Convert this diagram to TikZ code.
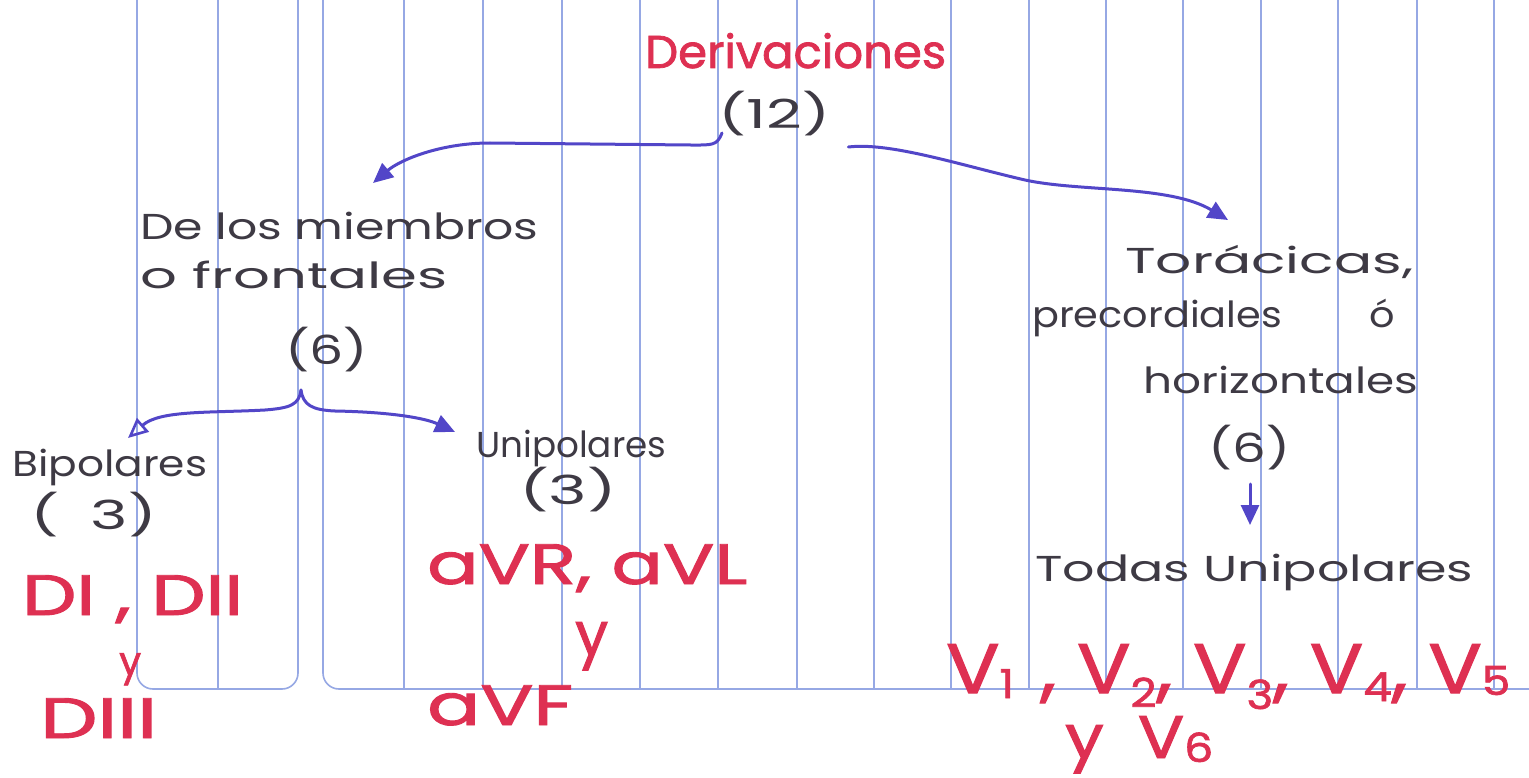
\documentclass[tikz,border=0pt]{standalone}
\usepackage{fontspec}
\setmainfont{Poppins}
\newfontfamily\markerfont[FakeBold=1.6]{Poppins}
\usetikzlibrary{arrows.meta,calc}
\definecolor{inkred}{RGB}{222,48,82}
\definecolor{ink}{RGB}{62,58,68}
\definecolor{penblue}{RGB}{82,70,200}
\definecolor{paperrule}{RGB}{150,168,228}
\newcommand{\hw}[2]{\resizebox{#1}{\height}{#2}}
\newcommand{\lsub}[2]{\raisebox{-#1}{\fontsize{40}{40}\selectfont #2}}
\begin{document}
\begin{tikzpicture}[x=1pt,y=-1pt,
  txt/.style={inner sep=0pt, anchor=base west, text=ink, font=\fontsize{36}{40}\selectfont},
  redtxt/.style={inner sep=0pt, anchor=base west, text=inkred, font=\markerfont\fontsize{57}{60}\selectfont},
  conn/.style={draw=penblue, line width=3pt, line cap=round},
  tipf/.style={-{Triangle[length=20pt,width=18pt]}},
  tipo/.style={-{Triangle[open,length=20pt,width=18pt,line width=2.6pt]}},
  rul/.style={draw=paperrule, line width=1.6pt}]
\useasboundingbox (0,0) rectangle (1529,778);
\fill[white] (0,0) rectangle (1529,778);
% notebook rules
\draw[rul,rounded corners=16pt] (137,0) -- (137,689) -- (298,689) -- (298,0);
\draw[rul] (218,0) -- (218,689);
\draw[rul,rounded corners=16pt] (323,0) -- (323,689) -- (1529,689);
\foreach \x in {404,483,562,640,718,797,874,951,1029,1106,1183,1261,1338,1417,1494}
  \draw[rul] (\x,0) -- (\x,689);
% black texts
\node[redtxt,font=\markerfont\fontsize{46}{50}\selectfont] (der) at (645,68) {\hw{301pt}{Derivaciones}};
\node[txt,font=\fontsize{40}{44}\selectfont] (n12) at (718,129) {\hw{112pt}{(12)}};
\node[txt] (mem1) at (140,240) {\hw{398pt}{De los miembros}};
\node[txt] (mem2) at (140,288) {\hw{307pt}{o frontales}};
\node[txt,font=\fontsize{40}{44}\selectfont] (mem6) at (285,364) {\hw{83pt}{(6)}};
\node[txt] (bip) at (12,476) {\hw{195pt}{Bipolares}};
\node[txt,font=\fontsize{40}{44}\selectfont] (bip3) at (30,529) {\hw{127pt}{(\hspace{0.5em}3)}};
\node[txt] (uni) at (476,457) {\hw{190pt}{Unipolares}};
\node[txt,font=\fontsize{40}{44}\selectfont] (uni3) at (519,504) {\hw{98pt}{(3)}};
\node[txt] (tor1) at (1125,273) {\hw{288pt}{Torácicas,}};
\node[txt] (tor2) at (1032,327) {\hw{363pt}{precordiales\hspace{2.2em}ó}};
\node[txt] (tor3) at (1143,393) {\hw{275pt}{horizontales}};
\node[txt,font=\fontsize{40}{44}\selectfont] (tor6) at (1208,462) {\hw{82pt}{(6)}};
\node[txt] (todas) at (1035,581) {\hw{438pt}{Todas Unipolares}};
% red texts
\node[redtxt] (d12) at (22,615) {\hw{221pt}{DI , DII}};
\node[redtxt,font=\markerfont\fontsize{40}{44}\selectfont] (dy) at (119,675) {\hw{22pt}{y}};
\node[redtxt] (d3) at (40,738) {\hw{117pt}{DIII}};
\node[redtxt] (avr) at (427,584) {\hw{320pt}{aVR, aVL}};
\node[redtxt,font=\markerfont\fontsize{60}{64}\selectfont] (avy) at (575,655) {\hw{33pt}{y}};
\node[redtxt] (avf) at (427,725) {\hw{146pt}{aVF}};
\node[redtxt,font=\markerfont\fontsize{70}{74}\selectfont] (vs) at (946,693)
  {\hw{564pt}{V\lsub{5pt}{1}\,\,, V\lsub{14pt}{2}, V\lsub{16pt}{3}, V\lsub{8pt}{4}, V\lsub{2pt}{5}}};
\node[redtxt,font=\markerfont\fontsize{60}{64}\selectfont] (v6) at (1065,758) {\hw{148pt}{y\hspace{0.5em}V\lsub{4pt}{6}}};
% connectors
\draw[conn,tipf] ($(n12.base west)+(4,4)$) .. controls (717,146) and (712,145) .. (690,145)
  -- (490,143) .. controls (440,143) and (400,160) .. ($(mem1.base west)+(233,-57)$);
\draw[conn,tipf] ($(n12.base east)+(18,18)$) .. controls (890,142) and (960,165) .. (1025,180)
  .. controls (1080,192) and (1170,185) .. ($(tor1.base west)+(103,-53)$);
\coordinate (J) at ($(mem6.base west)+(16,26)$);
\draw[conn,tipo] (J) .. controls (299,405) and (290,408) .. (265,410)
  .. controls (210,413) and (160,410) .. ($(bip.base west)+(116,-38)$);
\draw[conn,tipf] (J) .. controls (303,405) and (312,410) .. (335,411)
  .. controls (390,412) and (425,418) .. ($(uni.base west)+(-21,-25)$);
\draw[conn,tipf] ($(tor6.base west)+(42,22)$) -- ($(todas.base west)+(215,-56)$);
\end{tikzpicture}
\end{document}
